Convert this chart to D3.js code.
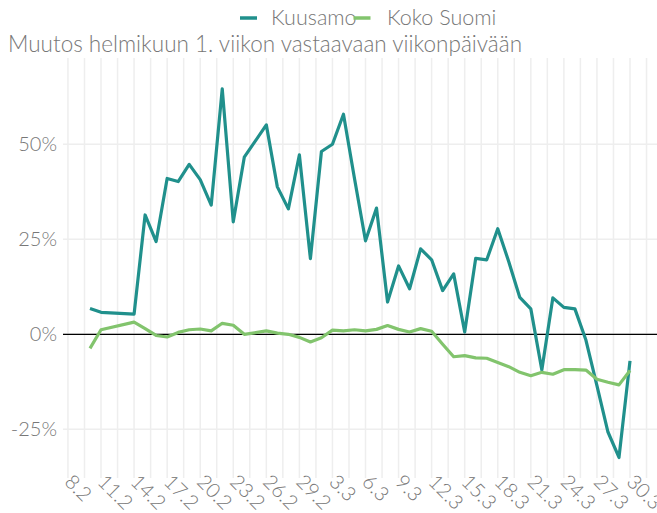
<!DOCTYPE html>
<html><head><meta charset="utf-8">
<script src="https://cdn.jsdelivr.net/npm/d3@7"></script>
<style>
html,body{margin:0;padding:0;background:#fff;}
text{font-family:Lato,"Open Sans",sans-serif;font-weight:300;fill:#777;}
</style></head>
<body><svg id="c" width="657" height="513"></svg>
<script>
const dates = ["10.2","11.2","14.2","15.2","16.2","17.2","18.2","19.2","20.2","21.2","22.2","23.2","24.2","26.2","27.2","28.2","29.2",
"1.3","2.3","3.3","4.3","5.3","6.3","7.3","8.3","9.3","10.3","11.3","12.3","13.3","14.3","15.3","16.3","17.3","18.3","19.3","20.3",
"21.3","22.3","23.3","24.3","25.3","26.3","27.3","28.3","29.3","30.3"];
const kuusamo = [6.8,5.8,5.3,31.4,24.4,41.0,40.2,44.7,40.7,34.0,64.6,29.6,46.6,55.1,38.8,33.0,47.2,
19.9,48.1,50.0,57.9,41.0,24.6,33.2,8.5,18.0,12.0,22.5,19.6,11.5,15.9,0.6,20.0,19.6,27.8,19.1,9.7,
6.7,-9.4,9.6,7.1,6.7,-1.5,-13.5,-25.7,-32.4,-7.0];
const kokoSuomi = [-3.7,1.2,3.2,1.5,-0.3,-0.7,0.5,1.2,1.4,0.9,2.9,2.4,0.0,0.9,0.3,0.0,-0.8,
-2.0,-0.9,1.1,0.9,1.2,0.9,1.3,2.3,1.3,0.6,1.5,0.8,-2.6,-5.9,-5.6,-6.2,-6.3,-7.4,-8.5,-10.0,
-10.9,-10.0,-10.5,-9.3,-9.3,-9.4,-11.8,-12.6,-13.3,-9.5];
const xTickLabels = ["8.2","11.2","14.2","17.2","20.2","23.2","26.2","29.2","3.3","6.3","9.3","12.3","15.3","18.3","21.3","24.3","27.3","30.3"];
const yTicks = [-25,0,25,50];
const seriesNames = ["Kuusamo","Koko Suomi"];
const colors = ["#20908C","#82C46D"];
const title = "Muutos helmikuun 1. viikon vastaavaan viikonpäivään";

const parse = s => { const [d,m] = s.split(".").map(Number); return new Date(Date.UTC(2020, m-1, d)); };
const DAY = 864e5;
const svg = d3.select("#c");
const L = 63, R = 657, T = 58, B = 478;
const t0 = parse(dates[0]), t1 = parse(dates[dates.length-1]);
const pad = (t1 - t0) * 0.05;
const x = d3.scaleUtc().domain([new Date(+t0 - pad), new Date(+t1 + pad)]).range([L, R]);
const y = d3.scaleLinear().domain([-37.8, 72.7]).range([B, T]);

// grid
const g = svg.append("g");
const majors = xTickLabels.map(parse);
const vlines = [];
majors.forEach(t => { vlines.push(t); vlines.push(new Date(+t + 1.5*DAY)); });
g.selectAll("line.v").data(vlines.filter(t => x(t) >= L && x(t) <= R)).join("line")
  .attr("x1", d => x(d)).attr("x2", d => x(d)).attr("y1", T).attr("y2", B)
  .attr("stroke", "#eeeeee").attr("stroke-width", 1.5);
g.selectAll("line.h").data(yTicks).join("line")
  .attr("x1", L).attr("x2", R).attr("y1", d => y(d)).attr("y2", d => y(d))
  .attr("stroke", "#eeeeee").attr("stroke-width", 1.5);

// y axis
const yAxis = d3.axisLeft(y).tickValues(yTicks).tickFormat(d => d + "%").tickSize(0).tickPadding(6);
const ya = svg.append("g").attr("transform", `translate(${L},0)`).call(yAxis);
ya.select(".domain").remove();
ya.selectAll("text").style("font-size", "20px").attr("fill", "#777");

// x axis
const xAxis = d3.axisBottom(x).tickValues(majors).tickFormat((d,i) => xTickLabels[i]).tickSize(0);
const xa = svg.append("g").attr("transform", `translate(0,${B})`).call(xAxis);
xa.select(".domain").remove();
xa.selectAll("text").style("font-size", "20px").attr("fill", "#777")
  .attr("text-anchor", "start").attr("dy", 0).attr("y", 0)
  .attr("transform", "translate(-5,5) rotate(45)");

// zero line
svg.append("line").attr("x1", L).attr("x2", R).attr("y1", y(0)).attr("y2", y(0))
  .attr("stroke", "#000").attr("stroke-width", 1.3);

// lines
const line = d3.line().x((d,i) => x(parse(dates[i]))).y(d => y(d));
[kuusamo, kokoSuomi].forEach((vals, k) => {
  svg.append("path").datum(vals).attr("d", line)
    .attr("fill", "none").attr("stroke", colors[k]).attr("stroke-width", 3.2)
    .attr("stroke-linejoin", "round");
});

// legend
const leg = svg.append("g");
const legX = [240, 353.5];
const legTextX = [271, 387];
seriesNames.forEach((n, k) => {
  leg.append("line").attr("x1", legX[k]).attr("x2", legX[k] + 17).attr("y1", 18).attr("y2", 18)
    .attr("stroke", colors[k]).attr("stroke-width", 3.5);
  leg.append("text").attr("x", legTextX[k]).attr("y", 25).text(n).style("font-size", "21.5px");
});

// title
svg.append("text").attr("x", 8).attr("y", 52).text(title).style("font-size", "22.5px");
</script></body></html>
